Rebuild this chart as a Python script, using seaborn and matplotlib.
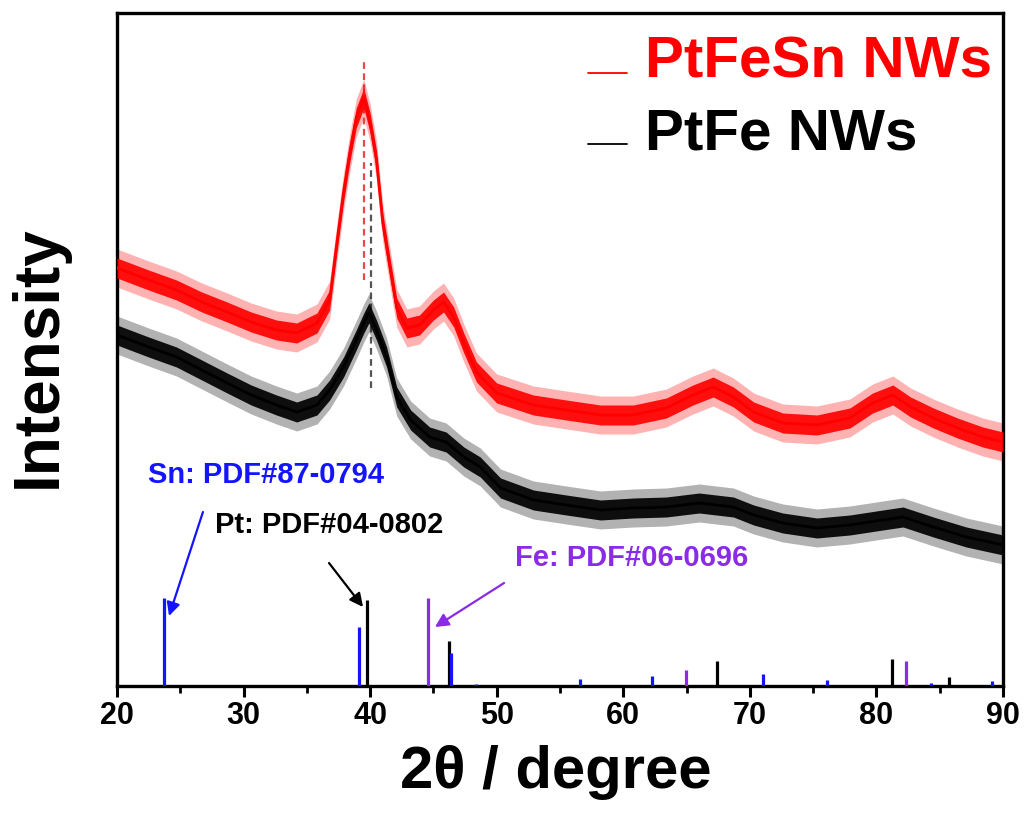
import matplotlib
matplotlib.use("Agg")
import matplotlib.pyplot as plt
from matplotlib.lines import Line2D
import numpy as np
import seaborn as sns

# ---------------- data ----------------
# PtFeSn nanowires: diffraction intensity (a.u.) versus 2-theta (deg)
ptfesn_2theta = [20.0, 22.5, 24.7, 26.7, 28.7, 30.6, 32.6, 34.2, 35.8, 36.8, 37.4, 37.9,
                 38.4, 38.9, 39.5, 40.0, 40.5, 41.0, 41.6, 42.1, 42.9, 43.9, 45.0, 45.8,
                 46.6, 47.4, 48.4, 50.0, 52.9, 55.5, 58.2, 60.8, 63.4, 65.5, 67.1, 68.7,
                 70.3, 72.6, 75.3, 77.9, 79.7, 81.3, 82.7, 84.5, 86.4, 88.4, 90.0]
ptfesn_counts = [418, 406, 396, 384, 374, 364, 356, 353, 363, 386, 446, 494,
                 534, 568, 588, 563, 526, 463, 416, 378, 358, 361, 376, 384,
                 369, 343, 314, 293, 281, 276, 271, 271, 278, 291, 299, 289,
                 274, 263, 261, 268, 283, 291, 279, 268, 258, 249, 244]

# PtFe nanowires
ptfe_2theta = [20.0, 22.5, 24.7, 26.7, 28.7, 30.6, 32.6, 34.2, 35.8, 36.8, 37.9, 38.9,
               39.5, 39.9, 40.5, 41.3, 42.1, 43.2, 44.7, 46.0, 47.4, 48.7, 50.3, 52.9,
               55.5, 58.2, 60.8, 63.4, 66.0, 68.7, 70.3, 72.6, 75.3, 77.9, 80.5, 82.1,
               84.5, 87.1, 90.0]
ptfe_counts = [351, 339, 329, 316, 303, 291, 281, 274, 281, 296, 319, 346,
               363, 373, 356, 329, 289, 266, 249, 244, 229, 219, 198, 186,
               181, 176, 178, 179, 183, 179, 171, 163, 158, 161, 166, 169,
               159, 149, 141]

# (111) peak positions of the two samples: position, line start, line end
peak_ptfesn = [39.5, 406, 624]
peak_ptfe = [40.07, 298, 523]

# Reference patterns (position, relative height)
sn_pos = [23.74, 39.15, 46.36, 48.4, 56.6, 62.3, 71.07, 76.1, 84.3, 89.1]
sn_int = [88, 59, 33, 2, 7, 10, 12, 6, 3, 5]
pt_pos = [39.73, 46.2, 67.43, 81.25, 85.7]
pt_int = [86, 45, 25, 27, 9]
fe_pos = [44.57, 64.96, 82.3]
fe_int = [88, 16, 25]

x_ticks = [20, 30, 40, 50, 60, 70, 80, 90]

# ---------------- style ----------------
sns.set_style("ticks")
plt.rcParams["font.family"] = ["Liberation Sans", "DejaVu Sans"]
plt.rcParams["text.color"] = "black"
plt.rcParams["axes.labelcolor"] = "black"
plt.rcParams["xtick.color"] = "black"
plt.rcParams["ytick.color"] = "black"

RED = "#ff0000"
BLACK = "#000000"
BLUE = "#1414ff"
PURPLE = "#8b2be6"

fig = plt.figure(figsize=(10.24, 8.16), dpi=100)
ax = fig.add_axes([117 / 1024, 130 / 816, 886 / 1024, 673 / 816])

# peak position guides
ax.vlines(peak_ptfesn[0], peak_ptfesn[1], peak_ptfesn[2], colors="#e84848",
          linestyles=(0, (3, 2)), lw=1.6, zorder=1)
ax.vlines(peak_ptfe[0], peak_ptfe[1], peak_ptfe[2], colors="#555555",
          linestyles=(0, (3, 2)), lw=1.6, zorder=1)

# measured patterns drawn as a noisy band around the trace
for xs, ys, col in [(ptfesn_2theta, ptfesn_counts, RED), (ptfe_2theta, ptfe_counts, BLACK)]:
    xs = np.asarray(xs)
    ys = np.asarray(ys, dtype=float)
    ax.fill_between(xs, ys - 19, ys + 19, color=col, alpha=0.3, lw=0, zorder=2)
    ax.fill_between(xs, ys - 10, ys + 10, color=col, alpha=0.92, lw=0, zorder=3)
    sns.lineplot(x=xs, y=ys, color=col, lw=2.0, ax=ax, zorder=4, estimator=None)

# reference sticks
ax.vlines(pt_pos, 0, pt_int, colors=BLACK, lw=2.3, zorder=5)
ax.vlines(fe_pos, 0, fe_int, colors=PURPLE, lw=2.3, zorder=5)
ax.vlines(sn_pos, 0, sn_int, colors=BLUE, lw=2.3, zorder=6)

# annotations
ann_kw = dict(fontsize=21, fontweight="bold", va="center", ha="left")
ax.text(22.45, 211, "Sn: PDF#87-0794", color=BLUE, **ann_kw)
ax.text(27.74, 161, "Pt: PDF#04-0802", color=BLACK, **ann_kw)
ax.text(51.45, 128, "Fe: PDF#06-0696", color=PURPLE, **ann_kw)
arrow = dict(arrowstyle="-|>", lw=1.6, mutation_scale=20, shrinkA=0, shrinkB=0)
ax.annotate("", xy=(24.11, 70), xytext=(26.79, 174), arrowprops=dict(color=BLUE, **arrow))
ax.annotate("", xy=(39.44, 79), xytext=(36.75, 123), arrowprops=dict(color=BLACK, **arrow))
ax.annotate("", xy=(45.12, 59), xytext=(50.58, 103), arrowprops=dict(color=PURPLE, **arrow))

# axes
ax.set_xlim(20, 90)
ax.set_ylim(0, 673)
ax.set_xticks(x_ticks)
ax.set_xticks(np.arange(25, 90, 10), minor=True)
ax.set_yticks([])
for s in ax.spines.values():
    s.set_linewidth(2.4)
    s.set_color("black")
ax.tick_params(axis="x", which="major", direction="out", length=8, width=2.2, pad=3,
               labelsize=22, labelcolor="black")
ax.tick_params(axis="x", which="minor", direction="out", length=5, width=2.0)
for lab in ax.get_xticklabels():
    lab.set_fontweight("bold")

ax.set_xlabel("2θ / degree", fontsize=43, fontweight="bold")
ax.xaxis.set_label_coords(0.4955, -0.088)
ax.set_ylabel("Intensity", fontsize=46, fontweight="bold")
ax.yaxis.set_label_coords(-0.055, 0.489)

# legend
handles = [Line2D([], [], color=RED, lw=1.3), Line2D([], [], color=BLACK, lw=1.3)]
leg = ax.legend(handles, ["PtFeSn NWs", "PtFe NWs"], loc="upper left",
                bbox_to_anchor=(588 / 1024, 1 - 36 / 816), bbox_transform=fig.transFigure,
                frameon=False, borderpad=0, borderaxespad=0, handlelength=0.67,
                handletextpad=0.31, labelspacing=0.3,
                prop=dict(family="Liberation Sans", weight="bold", size=42))
for txt, col in zip(leg.get_texts(), [RED, BLACK]):
    txt.set_color(col)
# sit the legend strokes near the text baseline
for h in leg.legend_handles:
    h.set_ydata(np.asarray(h.get_ydata(), dtype=float) - 11)

fig.savefig("out.png", dpi=100)
